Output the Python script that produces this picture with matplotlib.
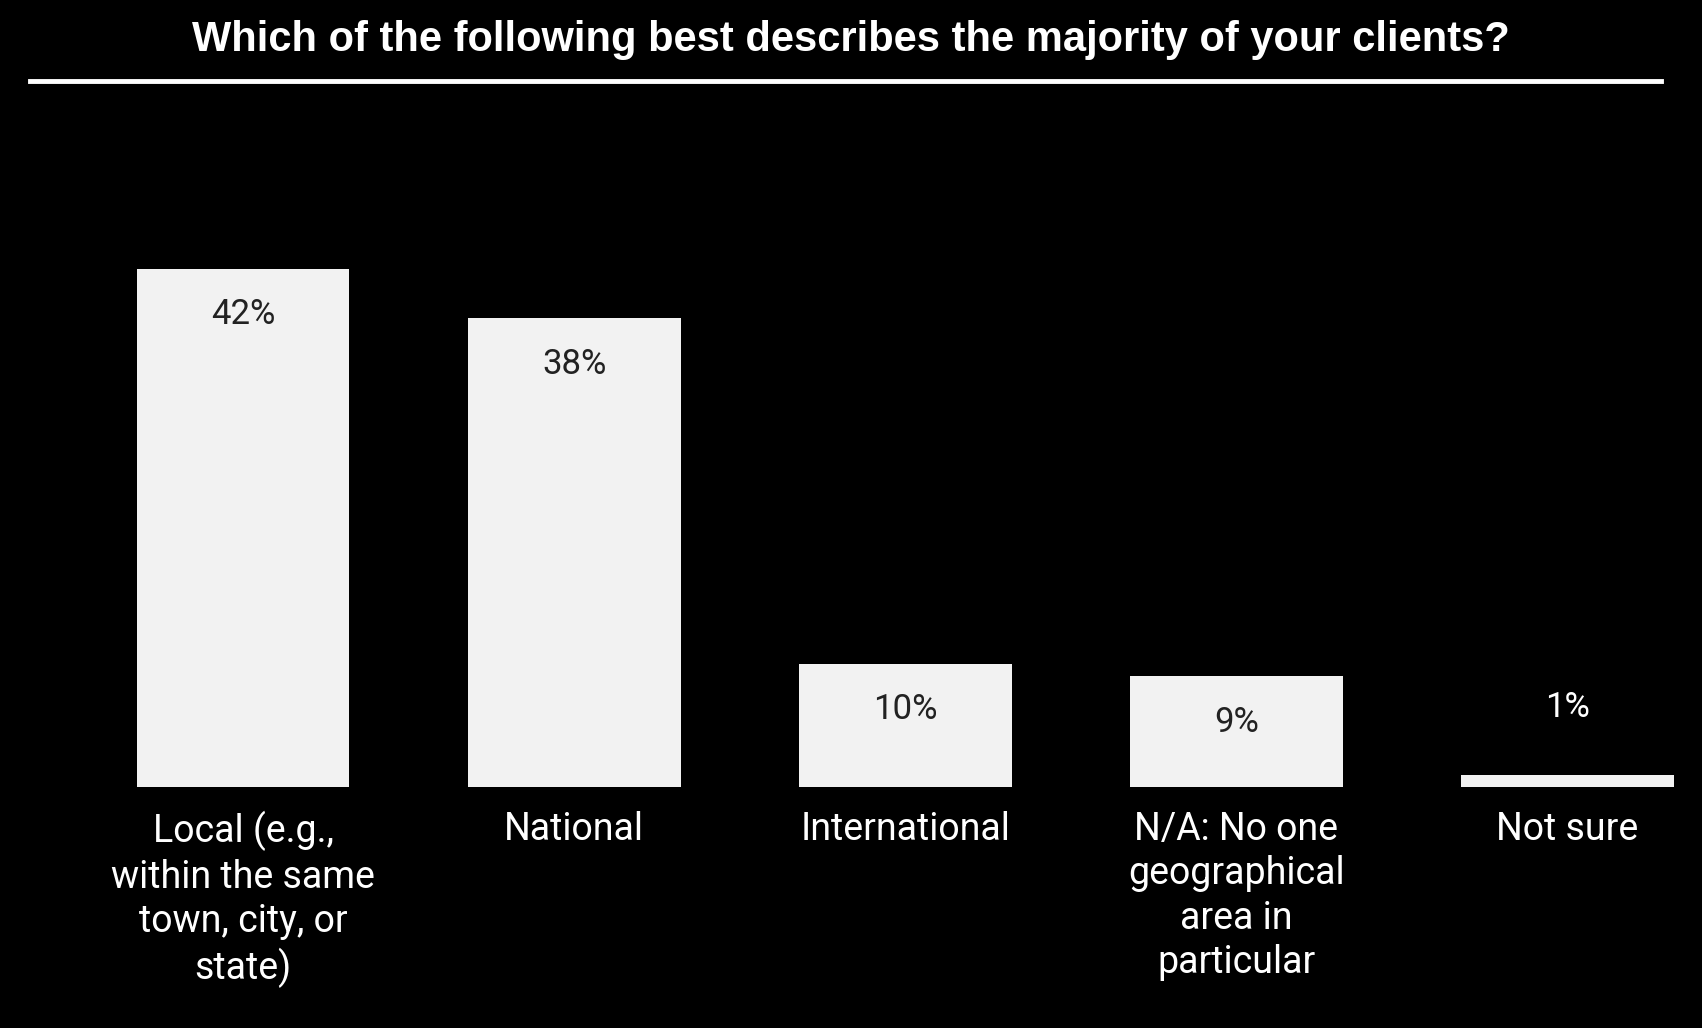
import matplotlib.pyplot as plt
import matplotlib.transforms as mtransforms

categories = ['Local (e.g.,\nwithin the same\ntown, city, or\nstate)', 'National',
              'International', 'N/A: No one\ngeographical\narea in\nparticular', 'Not sure']
values = [42, 38, 10, 9, 1]
value_labels = ['42%', '38%', '10%', '9%', '1%']

plt.rcParams['font.family'] = ['Roboto', 'DejaVu Sans']
fig = plt.figure(figsize=(17.02, 10.28), dpi=100, facecolor='black')
ax = fig.add_axes([0, 0.2344, 1, 0.7656])
ax.set_facecolor('black')
x = list(range(len(values)))
ax.bar(x, values, width=0.643, color='#f2f2f2')
ax.set_xlim(-0.734, 4.407)
ax.set_ylim(0, 63.8)
for s in ax.spines.values():
    s.set_visible(False)
ax.set_yticks([])
ax.set_xticks([])

for xi, v, lab, cat in zip(x, values, value_labels, categories):
    if v > 5:
        off = mtransforms.offset_copy(ax.transData, fig=fig, x=0, y=-46, units='dots')
        ax.text(xi, v, lab, transform=off, ha='center', va='center', fontsize=25, color='#222222')
    else:
        off = mtransforms.offset_copy(ax.transData, fig=fig, x=0, y=67, units='dots')
        ax.text(xi, v, lab, transform=off, ha='center', va='center', fontsize=25, color='white')
    off = mtransforms.offset_copy(ax.transData, fig=fig, x=0, y=-24, units='dots')
    ax.text(xi, 0, cat, transform=off, ha='center', va='top', fontsize=27, color='white',
            linespacing=1.25)

fig.text(0.5, 0.961, 'Which of the following best describes the majority of your clients?',
         ha='center', va='center', fontsize=30, fontweight='bold', color='white',
         family=['Liberation Sans', 'DejaVu Sans'])
fig.add_artist(plt.Line2D([28 / 1568, 1530 / 1568], [1 - 75 / 947] * 2, color='white', lw=3.5))

fig.savefig('out.png', facecolor='black')
